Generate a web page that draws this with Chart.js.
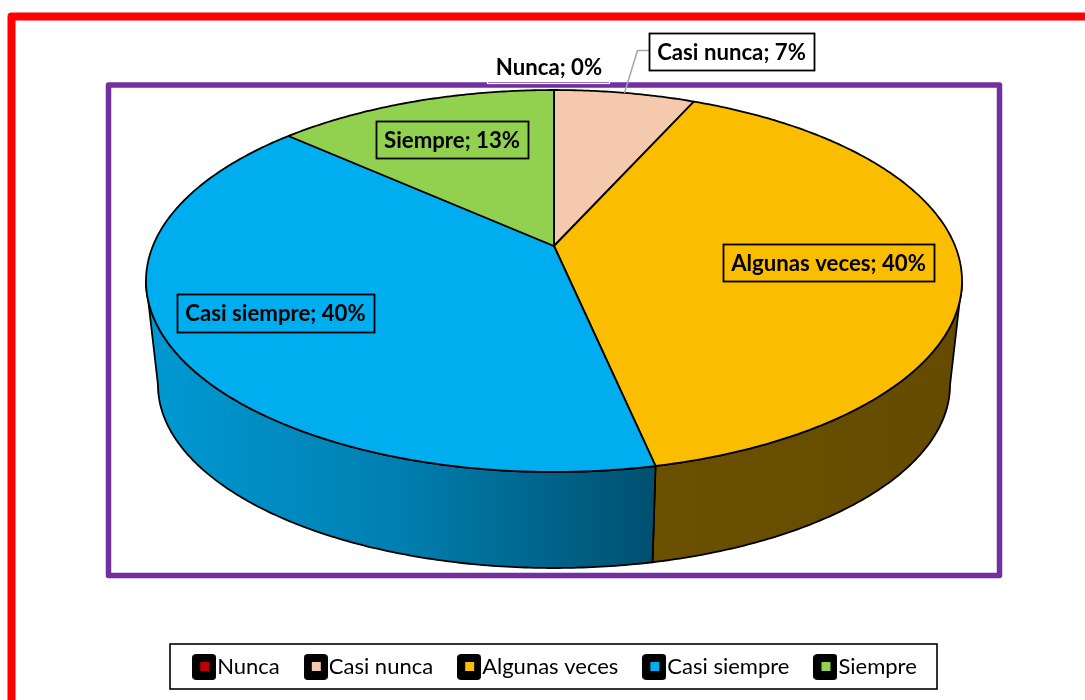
<!DOCTYPE html>
<html>
<head>
<meta charset="utf-8">
<style>html,body{margin:0;padding:0;background:#fff;overflow:hidden}canvas{display:block}</style>
<script src="https://cdn.jsdelivr.net/npm/chart.js@4"></script>
</head>
<body>
<canvas id="c" width="1085" height="700"></canvas>
<script>
const categories = ['Nunca', 'Casi nunca', 'Algunas veces', 'Casi siempre', 'Siempre'];
const percentages = [0, 6.67, 40, 40, 13.33];
const colors = ['#c00000', '#f5c9ad', '#fbbd00', '#00aeef', '#92d050'];
const wallStops = [null, null, ['#6b5000', '#644b00'], ['#0099d4', '#007fb0', '#00506f'], null];

const FONT = 'Lato, Carlito, Calibri, sans-serif';
const CX = 554, APEX_Y = 246, TILT = -70 / 382, YK = 139.5, XK = 401.1;
const WALL_SX = 396 / 408, WALL_SY = 183 / 191, WALL_CY = 385, TOP_CY = 281;
const VIS_A = 100.56 * Math.PI / 180, VIS_B = 259.44 * Math.PI / 180;

function topPoint(t) {
  const x = Math.sin(t), y = -Math.cos(t), d = 1 + TILT * y;
  return [CX + XK * x / d, (YK * y + APEX_Y) / d];
}
function bottomPoint(t) {
  const p = topPoint(t);
  return [CX + (p[0] - CX) * WALL_SX, WALL_CY + (p[1] - TOP_CY) * WALL_SY];
}
function samples(a, b) {
  const n = Math.max(2, Math.ceil(Math.abs(b - a) / 0.01)), out = [];
  for (let i = 0; i <= n; i++) out.push(a + (b - a) * i / n);
  return out;
}
function marker(color) {
  const c = document.createElement('canvas');
  c.width = 24; c.height = 26;
  const g = c.getContext('2d');
  g.fillStyle = '#000';
  g.beginPath(); g.roundRect(0, 0, 24, 26, 4); g.fill();
  g.fillStyle = color;
  g.fillRect(8, 8, 9, 9);
  return c;
}
const markers = colors.map(marker);

const boxes = [
  {i: 1, x: 649, y: 33, w: 165, h: 37, fill: '#fff', line: '#000'},
  {i: 2, x: 723, y: 244, w: 211, h: 37},
  {i: 3, x: 177, y: 294, w: 197, h: 38},
  {i: 4, x: 376, y: 121, w: 152, h: 37}
];

const frame = {
  id: 'frame',
  beforeDraw(chart) {
    const g = chart.ctx;
    g.save();
    g.fillStyle = '#fff'; g.fillRect(0, 0, 1085, 700);
    g.lineJoin = 'round';
    g.strokeStyle = '#ff0000'; g.lineWidth = 8;
    g.beginPath(); g.moveTo(11.5, 720); g.lineTo(11.5, 16.5); g.lineTo(1100, 16.5); g.stroke();
    g.strokeStyle = '#7030a0'; g.lineWidth = 5.5;
    g.strokeRect(108.5, 85, 891, 490.5);
    g.restore();
  }
};

const pie3d = {
  id: 'pie3d',
  afterLayout(chart) {
    const l = chart.legend;
    l.top -= 12; l.bottom -= 12; l.left += 17; l.right += 17;
  },
  beforeDatasetDraw(chart) {
    const g = chart.ctx, arcs = chart.getDatasetMeta(0).data;
    const ang = arcs.map(a => [a.startAngle + Math.PI / 2, a.endAngle + Math.PI / 2]);
    g.save();
    g.lineJoin = 'round';
    g.strokeStyle = '#000';
    g.lineWidth = 1.8;
    // side wall
    ang.forEach((r, i) => {
      const a = Math.max(r[0], VIS_A), b = Math.min(r[1], VIS_B);
      if (b <= a || !wallStops[i]) return;
      const ts = samples(a, b);
      const pts = ts.map(topPoint).concat(ts.slice().reverse().map(bottomPoint));
      const xs = pts.map(p => p[0]);
      const gr = g.createLinearGradient(Math.min(...xs), 0, Math.max(...xs), 0);
      wallStops[i].forEach((c, k, s) => gr.addColorStop(k / (s.length - 1), c));
      g.beginPath();
      pts.forEach((p, k) => k ? g.lineTo(p[0], p[1]) : g.moveTo(p[0], p[1]));
      g.closePath();
      g.fillStyle = gr; g.fill(); g.stroke();
    });
    // top face
    ang.forEach((r, i) => {
      if (r[1] - r[0] < 1e-6) return;
      g.beginPath();
      g.moveTo(CX, APEX_Y);
      samples(r[0], r[1]).map(topPoint).forEach(p => g.lineTo(p[0], p[1]));
      g.closePath();
      g.fillStyle = colors[i]; g.fill(); g.stroke();
    });
    g.restore();
    return false;
  },
  afterDatasetsDraw(chart) {
    const g = chart.ctx;
    g.save();
    // leader line
    g.strokeStyle = '#a6a6a6'; g.lineWidth = 1.5;
    g.beginPath(); g.moveTo(649, 50.5); g.lineTo(637.5, 50.5); g.lineTo(624.5, 93); g.stroke();
    // Nunca label outline
    g.strokeStyle = '#fff'; g.lineWidth = 1.2;
    g.strokeRect(487.5, 52, 122, 31.5);
    g.font = 'bold 22.2px ' + FONT;
    g.textAlign = 'center'; g.textBaseline = 'middle';
    g.fillStyle = '#000';
    g.fillText(categories[0] + '; ' + Math.round(percentages[0]) + '%', 549, 67.5);
    boxes.forEach(b => {
      if (b.fill) { g.fillStyle = b.fill; g.fillRect(b.x, b.y, b.w, b.h); }
      g.strokeStyle = '#000'; g.lineWidth = 1.8;
      g.strokeRect(b.x + .5, b.y + .5, b.w, b.h);
      g.fillStyle = '#000';
      g.fillText(categories[b.i] + '; ' + Math.round(percentages[b.i]) + '%', b.x + b.w / 2, b.y + b.h / 2 + 1);
    });
    g.restore();
  },
  afterDraw(chart) {
    const g = chart.ctx;
    g.save();
    g.strokeStyle = '#000'; g.lineWidth = 1.6;
    g.strokeRect(170, 644, 767, 45);
    g.restore();
  }
};

new Chart(document.getElementById('c'), {
  type: 'pie',
  data: {
    labels: categories,
    datasets: [{ data: percentages, backgroundColor: colors, borderColor: '#000' }]
  },
  options: {
    responsive: false,
    animation: false,
    plugins: {
      tooltip: { enabled: false },
      legend: {
        position: 'bottom',
        labels: {
          usePointStyle: true,
          pointStyleWidth: 4,
          padding: 34,
          color: '#000',
          font: { family: FONT, size: 22 },
          generateLabels(chart) {
            return categories.map((t, i) => ({
              text: t, pointStyle: markers[i], fillStyle: colors[i],
              strokeStyle: '#000', lineWidth: 0, hidden: false, index: i, fontColor: '#000'
            }));
          }
        }
      }
    }
  },
  plugins: [frame, pie3d]
});
</script>
</body>
</html>
